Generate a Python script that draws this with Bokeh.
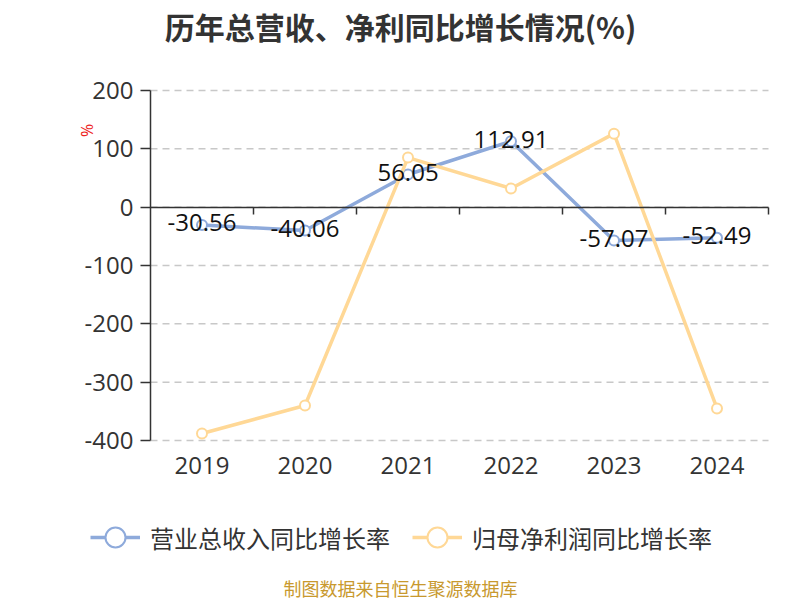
from bokeh.plotting import figure
from bokeh.models import Range1d, FixedTicker, LinearAxis, Legend, LegendItem, Label
from bokeh.embed import file_html
from bokeh.resources import INLINE
from bokeh.core.properties import value

years = ["2019", "2020", "2021", "2022", "2023", "2024"]
revenue_growth = [-30.56, -40.06, 56.05, 112.91, -57.07, -52.49]
profit_growth = [-388, -340, 85, 32, 126, -345]
y_ticks = [-400, -300, -200, -100, 0, 100, 200]
series_names = ["营业总收入同比增长率", "归母净利润同比增长率"]
title_text = "历年总营收、净利同比增长情况(%)"
source_text = "制图数据来自恒生聚源数据库"
unit_text = "%"

BLUE = "#8eaadb"
YELLOW = "#ffd896"
NUM_FONT = "Open Sans"
CJK_FONT = "Noto Sans CJK SC"

W, H = 800, 600
FL, FR, FT, FB = 150, 768, 90, 440          # plot area in pixels
n = len(years)
x_idx = list(range(n))
ux = (FR - FL) / n                            # px per category
y_lo, y_hi = y_ticks[0], y_ticks[-1]
uy = (FB - FT) / (y_hi - y_lo)                # px per unit
x_start = -0.5 - FL / ux
x_end = x_start + W / ux
y_start = y_lo - (H - FB) / uy
y_end = y_hi + FT / uy

def px_x(px):
    return x_start + px / ux

def px_y(py):
    return y_hi - (py - FT) / uy

p = figure(width=W, height=H,
           x_range=Range1d(x_start, x_end), y_range=Range1d(y_start, y_end),
           output_backend="svg", toolbar_location=None,
           min_border=0, x_axis_location=None, y_axis_location=None)
p.outline_line_color = None
p.xgrid.grid_line_color = None
p.ygrid.grid_line_color = None

# dashed horizontal grid lines across the plot area
p.segment(x0=[-0.5] * len(y_ticks), y0=y_ticks, x1=[n - 0.5] * len(y_ticks), y1=y_ticks,
          line_color="#c8c8c8", line_dash="7 5", line_width=1.5)

# y axis
yax = LinearAxis(fixed_location=-0.5, bounds=(y_lo, y_hi), ticker=FixedTicker(ticks=y_ticks),
                 major_label_overrides={t: str(t) for t in y_ticks},
                 axis_line_color="#333333", axis_line_width=1.5,
                 major_tick_line_color="#333333", major_tick_line_width=1.5,
                 major_tick_out=10, major_tick_in=0, minor_tick_line_color=None,
                 major_label_text_font=NUM_FONT, major_label_text_font_size="24px",
                 major_label_text_color="#333333", major_label_standoff=7)
p.add_layout(yax, "left")

# x axis labels (at bottom of plot area)
xax = LinearAxis(fixed_location=y_lo, ticker=FixedTicker(ticks=x_idx),
                 major_label_overrides={i: y for i, y in zip(x_idx, years)},
                 axis_line_color=None, major_tick_line_color=None, minor_tick_line_color=None,
                 major_tick_out=0, major_tick_in=0,
                 major_label_text_font=NUM_FONT, major_label_text_font_size="24px",
                 major_label_text_color="#333333", major_label_standoff=16)
p.add_layout(xax, "below")

# x axis line at zero with ticks at category boundaries
boundaries = [i + 0.5 for i in x_idx]
zax = LinearAxis(fixed_location=0, bounds=(-0.5, n - 0.5), ticker=FixedTicker(ticks=boundaries),
                 major_label_overrides={b: "" for b in boundaries},
                 axis_line_color="#333333", axis_line_width=1.5,
                 major_tick_line_color="#333333", major_tick_line_width=1.5,
                 major_tick_out=7, major_tick_in=0, minor_tick_line_color=None)
p.add_layout(zax, "below")

# series
bl = p.line(x=x_idx, y=revenue_growth, line_color=BLUE, line_width=3.5)
bs = p.scatter(x=x_idx, y=revenue_growth, size=10, marker="circle", fill_color="white",
               line_color=BLUE, line_width=2)
yl = p.line(x=x_idx, y=profit_growth, line_color=YELLOW, line_width=3.5)
ys = p.scatter(x=x_idx, y=profit_growth, size=10, marker="circle", fill_color="white",
               line_color=YELLOW, line_width=2)

p.text(x=x_idx, y=revenue_growth, text=[f"{v:.2f}" for v in revenue_growth],
       text_align="center", text_baseline="middle", y_offset=-2,
       text_font=value(NUM_FONT), text_font_size="24px", text_color="#111111")

legend = Legend(items=[LegendItem(label=series_names[0], renderers=[bl, bs]),
                       LegendItem(label=series_names[1], renderers=[yl, ys])],
                orientation="horizontal", location=(90, H - 562),
                glyph_width=50, glyph_height=50, label_standoff=10, spacing=22,
                padding=0, margin=0, border_line_color=None, background_fill_alpha=0,
                label_text_font=CJK_FONT, label_text_font_size="24px",
                label_text_color="#333333")
p.add_layout(legend)

p.add_layout(Label(x=px_x(400), y=px_y(25), text=title_text, text_align="center",
                   text_baseline="middle", text_font=CJK_FONT, text_font_size="30px",
                   text_font_style="bold", text_color="#333333"))
p.add_layout(Label(x=px_x(400), y=px_y(587), text=source_text, text_align="center",
                   text_baseline="middle", text_font=CJK_FONT, text_font_size="18px",
                   text_color="#c8992e"))
p.add_layout(Label(x=px_x(86), y=px_y(130), text=unit_text, text_align="center",
                   text_baseline="middle", angle=1.5708, text_font=NUM_FONT,
                   text_font_size="16px", text_color="#ee2222"))

open("out.html", "w").write(file_html(p, INLINE))
